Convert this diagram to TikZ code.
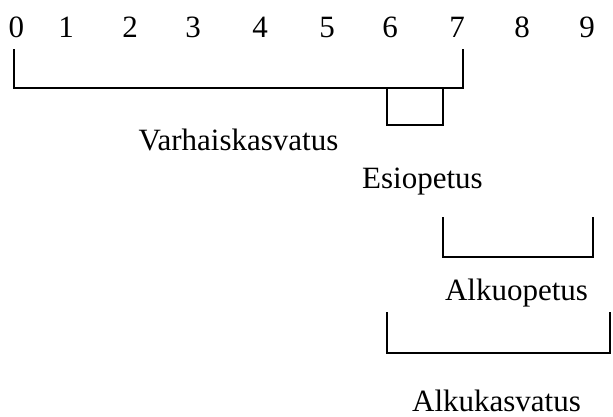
\documentclass[tikz,border=0pt]{standalone}
\usepackage{fontspec}
\setmainfont{Liberation Serif}
\begin{document}
\begin{tikzpicture}[x=1pt,y=-1pt,
  lbl/.style={anchor=base,inner sep=0pt,font=\fontsize{31}{37}\selectfont},
  brk/.style={line width=1.6pt,line join=miter,line cap=rect}]
\useasboundingbox (0,0) rectangle (613,417);
% scale digits
\foreach \d/\x in {0/16.5,1/66,2/130,3/193,4/260,5/327,6/390,7/457,8/522,9/587}
  \node[lbl] (n\d) at (\x,38) {\d};
% labels
\node[lbl] (varh) at (238.5,150) {Varhaiskasvatus};
\node[lbl] (esio) at (422.5,188) {Esiopetus};
\node[lbl] (alkuo) at (516.5,300) {Alkuopetus};
\node[lbl] (alkuk) at (496.5,411) {Alkukasvatus};
% bracket coordinates
\coordinate (v1) at (14,50);  \coordinate (v2) at (14,88);
\coordinate (v3) at (463,88); \coordinate (v4) at (463,50);
\coordinate (e1) at (387,88);  \coordinate (e2) at (387,125);
\coordinate (e3) at (443,125); \coordinate (e4) at (443,88);
\coordinate (o1) at (443,218); \coordinate (o2) at (443,257);
\coordinate (o3) at (593,257); \coordinate (o4) at (593,218);
\coordinate (k1) at (387,313); \coordinate (k2) at (387,353);
\coordinate (k3) at (610,353); \coordinate (k4) at (610,313);
\draw[brk] (v1) -- (v2) -- (v3) -- (v4);
\draw[brk] (e1) -- (e2) -- (e3) -- (e4);
\draw[brk] (o1) -- (o2) -- (o3) -- (o4);
\draw[brk] (k1) -- (k2) -- (k3) -- (k4);
\end{tikzpicture}
\end{document}
